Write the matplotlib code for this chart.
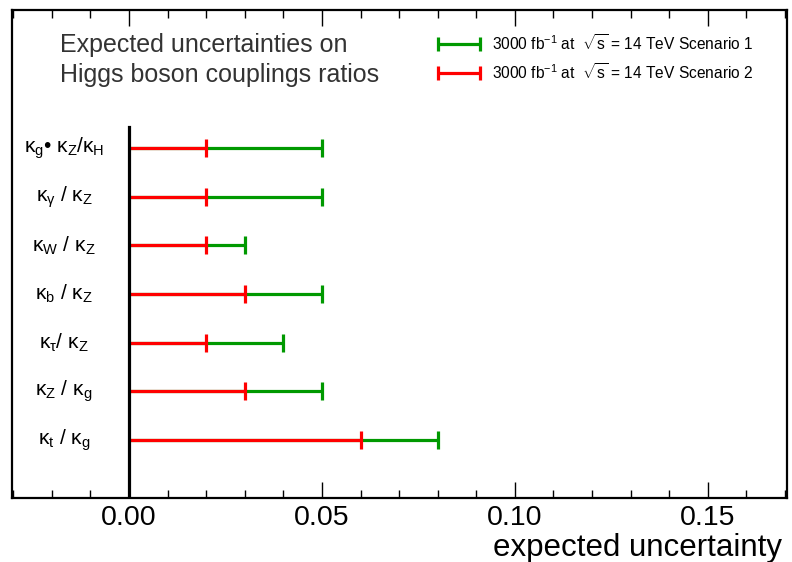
import matplotlib
matplotlib.use("Agg")
import matplotlib.pyplot as plt

plt.rcParams['font.family'] = ['Liberation Sans', 'DejaVu Sans']
plt.rcParams['mathtext.fontset'] = 'custom'
plt.rcParams['mathtext.rm'] = 'Liberation Sans'
plt.rcParams['mathtext.it'] = 'Liberation Sans:italic'
plt.rcParams['mathtext.sf'] = 'Liberation Sans'

# DATA (top row first)
ratio_labels = [r'κ$_{\mathrm{g}}$• κ$_{\mathrm{Z}}$/κ$_{\mathrm{H}}$',
                r'κ$_{\mathrm{γ}}$ / κ$_{\mathrm{Z}}$',
                r'κ$_{\mathrm{W}}$ / κ$_{\mathrm{Z}}$',
                r'κ$_{\mathrm{b}}$ / κ$_{\mathrm{Z}}$',
                r'κ$_{\mathrm{τ}}$/ κ$_{\mathrm{Z}}$',
                r'κ$_{\mathrm{Z}}$ / κ$_{\mathrm{g}}$',
                r'κ$_{\mathrm{t}}$ / κ$_{\mathrm{g}}$']
scenario1 = [0.05, 0.05, 0.03, 0.05, 0.04, 0.05, 0.08]
scenario2 = [0.02, 0.02, 0.02, 0.03, 0.02, 0.03, 0.06]
legend_labels = [r'3000 fb$^{-1}$ at  $\sqrt{\mathrm{s}}$ = 14 TeV Scenario 1',
                 r'3000 fb$^{-1}$ at  $\sqrt{\mathrm{s}}$ = 14 TeV Scenario 2']

green = '#009900'
red = '#ff0000'

fig = plt.figure(figsize=(7.92, 5.62), dpi=100)
ax = fig.add_axes([12/792, 1 - 498/562, 775/792, 488/562])

n = len(ratio_labels)
ypos = list(range(n - 1, -1, -1))   # top row has the largest y

for y, s1, s2, lab in zip(ypos, scenario1, scenario2, ratio_labels):
    ax.plot([0, s1], [y, y], color=green, lw=2.3, solid_capstyle='butt')
    ax.plot([s1], [y], marker='|', ms=13, mew=2.3, color=green)
    ax.plot([0, s2], [y, y], color=red, lw=2.3, solid_capstyle='butt')
    ax.plot([s2], [y], marker='|', ms=13, mew=2.3, color=red)
    ax.text(-0.0168, y, lab, ha='center', va='center', fontsize=15)

# zero line
ax.plot([0, 0], [-1.2, 6.43], color='black', lw=2.3)

# title block
ax.text(-0.0179, 8.12, 'Expected uncertainties on', fontsize=18, color='#333333', va='center')
ax.text(-0.0179, 7.50, 'Higgs boson couplings ratios', fontsize=18, color='#333333', va='center')

# legend
for yl, col, lab in zip([8.14, 7.54], [green, red], legend_labels):
    ax.plot([0.0801, 0.0909], [yl, yl], color=col, lw=2.3, solid_capstyle='butt')
    ax.plot([0.0801, 0.0909], [yl, yl], ls='none', marker='|', ms=10, mew=2.3, color=col)
    ax.text(0.0940, yl, lab, fontsize=11.2, va='center')

ax.set_xlim(-0.0303, 0.1705)
ax.set_ylim(-1.19, 8.84)
ax.set_xticks([0.0, 0.05, 0.10, 0.15])
ax.set_xticklabels(['0.00', '0.05', '0.10', '0.15'], fontsize=20.5)
ax.set_xticks([-0.03 + 0.01 * i for i in range(21)], minor=True)
ax.set_yticks([])
ax.tick_params(axis='x', which='major', direction='in', length=11.5, width=1, top=True, pad=5)
ax.tick_params(axis='x', which='minor', direction='in', length=5.8, width=1, top=True)
for sp in ax.spines.values():
    sp.set_linewidth(1.6)

fig.text(782/792, 1 - 548/562, 'expected uncertainty', fontsize=22.5, ha='right', va='center')

fig.savefig('out.png', dpi=100)
